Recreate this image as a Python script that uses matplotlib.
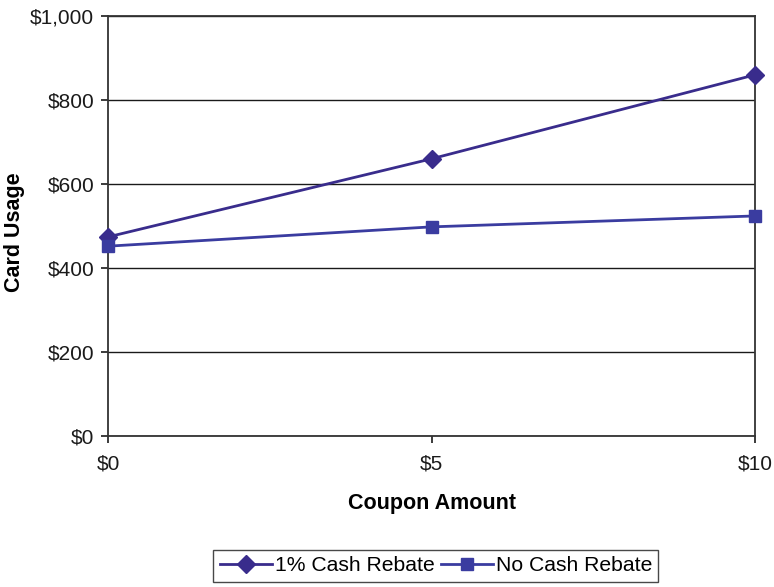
import matplotlib.pyplot as plt
from matplotlib.ticker import FuncFormatter

plt.rcParams['font.family'] = ['Liberation Sans', 'DejaVu Sans']

coupons = [0, 5, 10]
x_labels = ['$0', '$5', '$10']
rebate_1pct = [474, 660, 860]
no_rebate = [452, 498, 524]

fig = plt.figure(figsize=(7.74, 5.87), dpi=100)
ax = fig.add_axes([0.1395, 0.2572, 0.836, 0.7155])

ax.plot(coupons, rebate_1pct, color='#392c8c', lw=2.0, marker='D', ms=9,
        label='1% Cash Rebate', clip_on=False, zorder=4)
ax.plot(coupons, no_rebate, color='#3a3ca0', lw=2.0, marker='s', ms=8.5,
        label='No Cash Rebate', clip_on=False, zorder=4)

ax.set_xlim(0, 10)
ax.set_ylim(0, 1000)
ax.set_xticks(coupons)
ax.set_xticklabels(x_labels)
ax.set_yticks(range(0, 1001, 200))
ax.yaxis.set_major_formatter(FuncFormatter(lambda v, p: '${:,.0f}'.format(v)))
ax.yaxis.grid(True, color='#1a1a1a', lw=1.0)
ax.set_axisbelow(True)
for s in ax.spines.values():
    s.set_color('#333333')
    s.set_linewidth(1.3)
ax.tick_params(labelsize=15, colors='#1a1a1a', length=5, width=1.2, pad=5)
ax.tick_params(axis='x', pad=8)

ax.set_xlabel('Coupon Amount', fontsize=15.5, fontweight='bold', labelpad=14)
fig.text(15 / 774, 0.605, 'Card Usage', fontsize=15.5, fontweight='bold',
         rotation=90, ha='center', va='center')

leg = fig.legend(loc='center', bbox_to_anchor=(0.563, 0.036), ncol=2,
                 fontsize=15.2, frameon=True, fancybox=False, handlelength=2.5,
                 handletextpad=0.1, columnspacing=0.3, borderpad=0.3,
                 borderaxespad=0)
leg.get_frame().set_edgecolor('#1a1a1a')
leg.get_frame().set_linewidth(1.0)

fig.savefig('out.png', dpi=100)
